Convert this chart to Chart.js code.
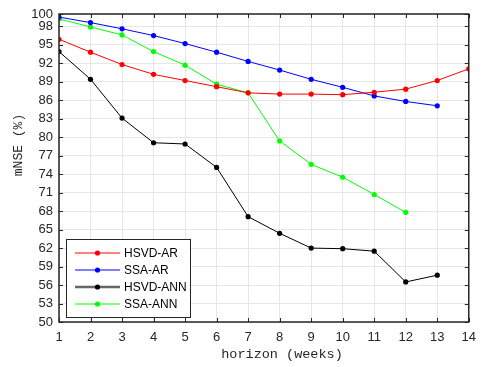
<!DOCTYPE html>
<html>
<head>
<meta charset="utf-8">
<script src="https://cdn.jsdelivr.net/npm/chart.js@4.4.0/dist/chart.umd.min.js"></script>
<style>
  html, body { margin: 0; padding: 0; background: #fff; }
  #wrap { width: 484px; height: 367px; position: relative; }
</style>
</head>
<body>
<div id="wrap"><canvas id="mnseChart"></canvas></div>
<script>
// horizon (weeks) and mNSE (%) values
const horizons = [1, 2, 3, 4, 5, 6, 7, 8, 9, 10, 11, 12, 13, 14];
const hsvdAr  = [95.9, 93.8, 91.8, 90.2, 89.2, 88.2, 87.2, 87.0, 87.0, 86.9, 87.3, 87.8, 89.2, 91.1];
const ssaAr   = [99.5, 98.6, 97.6, 96.5, 95.2, 93.8, 92.3, 90.9, 89.4, 88.1, 86.7, 85.8, 85.1];
const hsvdAnn = [93.9, 89.4, 83.1, 79.1, 78.9, 75.1, 67.1, 64.4, 62.0, 61.9, 61.5, 56.5, 57.6];
const ssaAnn  = [99.2, 97.9, 96.6, 93.9, 91.7, 88.6, 87.2, 79.4, 75.6, 73.5, 70.7, 67.8];
const yTicks  = [50, 53, 56, 59, 62, 65, 68, 71, 74, 77, 80, 83, 86, 89, 92, 95, 98, 100];

const toPoints = vals => vals.map((v, i) => ({ x: horizons[i], y: v }));

function series(label, vals, color) {
    return {
        label: label,
        data: toPoints(vals),
        borderColor: color,
        backgroundColor: color,
        borderWidth: 1,
        pointRadius: 2.6,
        pointHoverRadius: 2.6,
        pointBorderWidth: 0,
        tension: 0
    };
}

const legendItems = [
    { label: 'HSVD-AR',  color: '#ff0000', line: '#ff0000', width: 1 },
    { label: 'SSA-AR',   color: '#0000ff', line: '#0000ff', width: 1 },
    { label: 'HSVD-ANN', color: '#000000', line: '#666666', width: 2.5 },
    { label: 'SSA-ANN',  color: '#00ff00', line: '#00ff00', width: 1 }
];

const monoFont = '"Liberation Mono", "DejaVu Sans Mono", monospace';

// box, inward tick marks, axis titles and the legend inside the plot
const matlabAxes = {
    id: 'matlabAxes',
    afterDatasetsDraw(chart) {
        const ctx = chart.ctx;
        const a = chart.chartArea;
        const xs = chart.scales.x, ys = chart.scales.y;
        ctx.save();
        ctx.strokeStyle = '#262626';
        ctx.lineWidth = 1;
        ctx.beginPath();
        xs.ticks.forEach(t => {
            const px = Math.round(xs.getPixelForValue(t.value)) + 0.5;
            ctx.moveTo(px, a.bottom); ctx.lineTo(px, a.bottom - 4);
            ctx.moveTo(px, a.top); ctx.lineTo(px, a.top + 4);
        });
        ys.ticks.forEach(t => {
            const py = Math.round(ys.getPixelForValue(t.value)) + 0.5;
            ctx.moveTo(a.left, py); ctx.lineTo(a.left + 4, py);
            ctx.moveTo(a.right, py); ctx.lineTo(a.right - 4, py);
        });
        ctx.stroke();
        ctx.lineWidth = 1.5;
        ctx.strokeRect(a.left, a.top, a.right - a.left, a.bottom - a.top);

        // axis titles
        ctx.fillStyle = '#262626';
        ctx.textAlign = 'center';
        ctx.textBaseline = 'middle';
        ctx.font = '13.5px ' + monoFont;
        ctx.fillText('horizon (weeks)', 282, 354);
        ctx.save();
        ctx.translate(19, 145);
        ctx.rotate(-Math.PI / 2);
        ctx.font = '13px ' + monoFont;
        ctx.fillText('mNSE (%)', 0, 0);
        ctx.restore();

        // legend
        const bx = 66.5, by = 239.5, bw = 124, bh = 78;
        ctx.fillStyle = '#ffffff';
        ctx.fillRect(bx, by, bw, bh);
        ctx.lineWidth = 1;
        ctx.strokeStyle = '#262626';
        ctx.strokeRect(bx, by, bw, bh);
        ctx.font = '12px "Liberation Sans", Arial, sans-serif';
        ctx.textAlign = 'left';
        legendItems.forEach((it, i) => {
            const y = 253 + i * 17;
            ctx.strokeStyle = it.line;
            ctx.lineWidth = it.width;
            ctx.beginPath();
            ctx.moveTo(75, y); ctx.lineTo(120, y);
            ctx.stroke();
            ctx.fillStyle = it.color;
            ctx.beginPath();
            ctx.arc(97.5, y, 2.6, 0, Math.PI * 2);
            ctx.fill();
            ctx.fillStyle = '#000000';
            ctx.fillText(it.label, 124, y + 0.5);
        });
        ctx.restore();
    }
};

const ctx = document.getElementById('mnseChart').getContext('2d');
const mnseChart = new Chart(ctx, {
    type: 'line',
    data: {
        datasets: [
            series('HSVD-AR', hsvdAr, '#ff0000'),
            series('SSA-AR', ssaAr, '#0000ff'),
            series('HSVD-ANN', hsvdAnn, '#000000'),
            series('SSA-ANN', ssaAnn, '#00ff00')
        ]
    },
    options: {
        responsive: true,
        maintainAspectRatio: false,
        animation: false,
        layout: { padding: { top: 14, right: 9, left: 0, bottom: 0 } },
        plugins: {
            legend: { display: false },
            tooltip: { enabled: false }
        },
        scales: {
            x: {
                type: 'linear',
                min: 1,
                max: 14,
                ticks: {
                    stepSize: 1,
                    autoSkip: false,
                    padding: 8,
                    color: '#262626',
                    font: { family: '"Liberation Sans", Arial, sans-serif', size: 13 }
                },
                grid: { color: '#e6e6e6', drawTicks: false },
                border: { display: false },
                afterFit: scale => { scale.height = 45; }
            },
            y: {
                type: 'linear',
                min: 50,
                max: 100,
                afterBuildTicks: scale => {
                    scale.ticks = yTicks.map(v => ({ value: v }));
                },
                ticks: {
                    autoSkip: false,
                    padding: 6,
                    color: '#262626',
                    font: { family: '"Liberation Sans", Arial, sans-serif', size: 13 }
                },
                grid: { color: '#e6e6e6', drawTicks: false },
                border: { display: false },
                afterFit: scale => { scale.width = 59; }
            }
        }
    },
    plugins: [matlabAxes]
});
</script>
</body>
</html>
